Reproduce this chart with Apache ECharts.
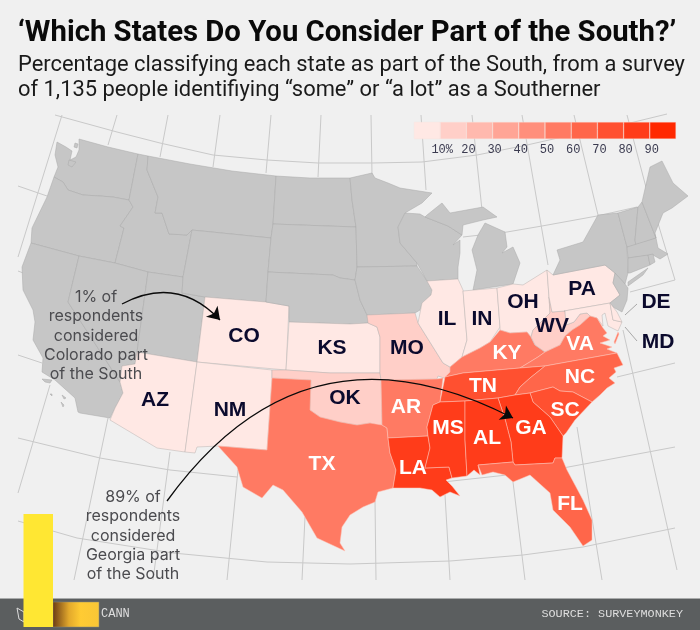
<!DOCTYPE html>
<html><head><meta charset="utf-8">
<style>html,body{margin:0;padding:0;background:#f0f0f0}#c{width:700px;height:630px}</style>
<script src="https://cdn.jsdelivr.net/npm/echarts@6/dist/echarts.min.js"></script>
</head><body><div id="c"></div>
<script>
const stateNames = ['CO','KS','AZ','NM','IL','IN','OH','PA','DE','MD','MO','OK','WV','AR','TX','KY','VA','NC','FL','TN','SC','LA','MS','AL','GA'];
const southPct   = [1,   4,   5,   6,   6,   7,   6,   3,   6,   8,   17,  17,  18,  57,  55,  56,  55,  66,  65,  75,  76,  84,  86,  85,  89];
// Legend
const binEdges  = [0,10,20,30,40,50,60,70,80,90,100];
const binColors = ['#ffe8e4','#ffcfc8','#ffb9ae','#ffa596','#ff8f7c','#ff7a63','#ff664a','#ff5030','#ff3c1a','#ff2800'];
const tickText  = {10:'10%',20:'20',30:'30',40:'40',50:'50',60:'60',70:'70',80:'80',90:'90'};
// Label anchors for each state
const labelAt = {CO:[244,336],KS:[332,348],AZ:[155,400],NM:[230,410],IL:[447,319],IN:[482,319],OH:[523,302],PA:[582,289],DE:[656,302],MD:[658,342],MO:[407,348],OK:[345,398],WV:[552,326],AR:[406,407],TX:[322,464],KY:[507,353],VA:[580,344],NC:[580,377],FL:[570,504],TN:[483,386],SC:[565,410],LA:[413,468],MS:[448,428],AL:[487,438],GA:[531,428]};
// State outlines (its own map projection)
const outlines = {
 WA:[[[57,142],[66,147],[72,151],[70,160],[76,157],[79,150],[79,139],[108,147],[138,154],[129,200],[113,197],[100,196],[83,195],[68,190],[63,182],[54,177],[58,167],[55,155]],[[69,160],[76,162],[72,167],[68,165]],[[75,143],[78,144],[77,148],[74,147]]],
 OR:[[[54,177],[63,182],[68,190],[83,195],[100,196],[113,197],[129,200],[133,207],[120,226],[124,228],[115,263],[79,256],[31,243],[32,228],[47,197]]],
 CA:[[[31,243],[79,256],[68,302],[120,382],[123,393],[115,408],[110,418],[80,413],[78,412],[75,398],[55,380],[42,372],[43,358],[33,340],[35,322],[33,310],[23,290],[22,267]],[[42,379],[52,380],[50,383],[45,382]],[[62,395],[66,398],[64,399]],[[50,394],[52,394],[52,396]],[[61,402],[64,405],[63,407]]],
 ID:[[[138,154],[148,156],[147,170],[158,197],[155,213],[162,213],[169,234],[187,235],[192,230],[183,277],[148,272],[115,263],[124,228],[120,226],[133,207],[129,200]]],
 NV:[[[79,256],[115,263],[148,272],[137,352],[135,364],[122,366],[120,382],[68,302]]],
 UT:[[[148,272],[183,277],[182,293],[205,297],[197,362],[137,352]]],
 MT:[[[148,156],[190,164],[232,171],[276,176],[273,224],[271,238],[192,230],[187,235],[169,234],[162,213],[155,213],[158,197],[147,170]]],
 WY:[[[192,230],[271,238],[268,272],[266,302],[205,297],[182,293],[183,277]]],
 CO:[[[205,297],[266,302],[289,306],[286,370],[197,362]]],
 AZ:[[[137,352],[197,362],[185,452],[157,448],[110,420],[115,408],[123,393],[120,382],[122,366],[135,364]]],
 NM:[[[197,362],[272,370],[272,378],[267,450],[218,446],[197,447],[195,453],[185,452]]],
 ND:[[[276,176],[310,178],[350,178],[352,200],[356,227],[273,224]]],
 SD:[[[273,224],[356,227],[357,267],[355,280],[340,278],[333,275],[268,272],[271,238]]],
 NE:[[[268,272],[333,275],[340,278],[355,280],[360,300],[367,315],[368,323],[350,324],[289,322],[289,306],[266,302]]],
 KS:[[[289,322],[350,324],[368,323],[377,327],[380,337],[380,373],[330,373],[286,370]]],
 OK:[[[272,370],[286,370],[330,373],[380,373],[381,380],[382,425],[387,428],[370,423],[357,425],[340,422],[320,417],[310,410],[311,380],[272,378]]],
 TX:[[[272,378],[311,380],[310,410],[320,417],[340,422],[357,425],[370,423],[382,425],[387,428],[388,438],[390,453],[396,470],[393,488],[378,492],[375,502],[363,507],[350,515],[342,527],[340,543],[345,551],[317,538],[302,512],[283,490],[273,485],[262,498],[243,487],[237,467],[218,446],[267,450]]],
 MN:[[[350,178],[372,173],[375,178],[388,183],[400,188],[432,193],[422,203],[405,213],[398,227],[400,243],[417,263],[417,266],[357,267],[356,227],[352,200]]],
 IA:[[[357,267],[417,266],[427,281],[432,290],[431,295],[422,303],[420,310],[415,313],[367,315],[360,300],[355,280]]],
 MO:[[[367,315],[415,313],[418,323],[433,347],[443,363],[450,367],[450,372],[447,379],[438,376],[437,379],[381,380],[380,373],[380,337],[377,327],[368,323]]],
 AR:[[[381,380],[437,379],[443,378],[440,402],[433,405],[427,427],[428,436],[388,438],[387,428],[382,425]]],
 LA:[[[388,438],[428,436],[430,448],[425,468],[449,467],[452,478],[446,480],[452,486],[460,496],[450,492],[440,497],[432,490],[420,488],[393,488],[396,470],[390,453]]],
 WI:[[[405,213],[420,214],[425,217],[448,226],[462,235],[453,245],[460,240],[460,253],[458,267],[458,279],[427,281],[417,263],[400,243],[398,227]]],
 MI:[[[473,290],[477,270],[472,250],[478,235],[485,223],[505,232],[507,247],[502,253],[513,247],[520,263],[513,284]],[[427,215],[442,203],[450,213],[483,207],[497,217],[483,220],[463,225],[462,235],[448,226],[425,217]]],
 IL:[[[427,281],[458,279],[463,290],[467,340],[462,357],[450,367],[443,363],[433,347],[418,323],[422,303],[431,295],[432,290]]],
 IN:[[[463,291],[497,288],[500,327],[490,342],[480,348],[462,357],[467,340]]],
 OH:[[[497,288],[513,284],[523,285],[547,270],[549,297],[550,313],[533,330],[531,337],[527,332],[510,333],[500,330],[500,327]]],
 KY:[[[500,330],[510,333],[527,332],[531,337],[535,345],[545,352],[538,357],[520,368],[463,373],[445,377],[450,372],[450,367],[462,357],[480,348],[490,342]]],
 WV:[[[549,297],[552,312],[565,311],[566,325],[574,322],[580,314],[587,313],[590,316],[580,325],[572,330],[565,336],[560,345],[545,352],[535,345],[531,337],[533,330],[550,313]]],
 PA:[[[547,270],[553,275],[605,265],[615,273],[613,283],[620,295],[610,303],[564,311],[552,312],[549,297]]],
 NY:[[[553,275],[560,260],[557,250],[583,242],[598,215],[618,213],[627,247],[628,273],[625,284],[615,273],[605,265]],[[628,282],[648,268],[643,275],[628,286]]],
 NJ:[[[615,273],[625,284],[628,288],[627,300],[622,312],[613,307],[610,303],[620,295],[613,283]]],
 VT:[[[618,213],[638,207],[635,240],[636,246],[627,247]]],
 NH:[[[638,207],[642,202],[656,238],[636,246],[635,240]]],
 ME:[[[642,202],[650,167],[662,161],[673,183],[688,196],[672,208],[663,213],[655,233],[656,238]]],
 MA:[[[627,247],[656,238],[658,248],[668,254],[660,259],[653,255],[628,258]]],
 CT:[[[628,258],[648,255],[650,265],[630,273],[628,273]]],
 RI:[[[648,255],[653,254],[655,262],[650,265]]],
 MD:[[[564,311],[610,303],[613,320],[622,322],[618,331],[608,326],[605,313],[602,315],[603,326],[597,318],[590,316],[587,313],[580,314],[574,322],[566,325],[565,311]]],
 DE:[[[610,303],[617,312],[622,322],[613,320]]],
 VA:[[[520,368],[538,357],[545,352],[560,345],[565,336],[572,330],[580,325],[590,316],[597,318],[603,328],[607,333],[603,336],[610,340],[600,343],[612,347],[607,349],[617,353],[545,366]],[[618,332],[619,334],[615,344],[614,342]]],
 TN:[[[445,377],[463,373],[520,368],[545,366],[530,378],[520,387],[515,395],[498,398],[465,401],[440,402]]],
 NC:[[[545,366],[617,353],[623,365],[614,368],[616,372],[609,378],[615,383],[607,388],[600,395],[592,402],[573,392],[560,391],[553,387],[530,393],[515,395],[520,387],[530,378]]],
 SC:[[[530,393],[553,387],[560,391],[573,392],[592,402],[575,420],[566,433],[563,436],[550,417],[533,402]]],
 GA:[[[498,398],[515,395],[530,393],[533,402],[550,417],[563,436],[562,458],[555,458],[553,463],[515,465],[513,462],[511,442],[505,419]]],
 MS:[[[440,402],[465,401],[465,440],[467,476],[452,478],[449,467],[425,468],[430,448],[428,436],[427,427],[433,405]]],
 AL:[[[465,401],[498,398],[505,419],[511,442],[513,462],[478,465],[480,475],[474,470],[467,476],[465,440]]],
 FL:[[[478,465],[513,462],[515,465],[553,463],[555,458],[562,458],[567,470],[583,500],[592,520],[592,540],[583,546],[570,527],[553,510],[550,493],[530,475],[513,482],[505,475],[493,472],[482,475]]]
};
// Faint graticule
const graticule = [
 [[62,115],[18,257]],[[50,385],[18,493]],[[117,115],[108,145]],[[108,418],[74,580]],
 [[168,115],[160,157]],[[170,452],[153,580]],[[220,115],[213,167]],[[238,470],[227,580]],
 [[271,115],[266,173]],[[321,115],[318,177]],[[305,517],[302,580]],
 [[371,115],[372,175]],[[375,500],[376,580]],[[421,115],[426,190]],[[445,495],[450,580]],
 [[472,115],[482,210]],[[513,482],[525,580]],[[522,115],[548,265]],[[577,427],[602,580]],
 [[574,115],[598,215]],[[623,330],[677,570]],[[627,115],[648,195]],[[657,220],[675,280]],
 [[55,115],[117,132],[160,143],[213,155],[267,160],[318,163],[372,163],[422,162],[477,155],[527,145],[580,133],[630,123],[667,114]],
 [[18,186],[47,196]],[[463,237],[507,232],[542,226],[597,216],[637,207]],
 [[630,292],[675,280]],[[18,271],[31,276]],
 [[617,377],[675,363]],[[18,355],[42,363]],
 [[563,468],[675,447]],[[443,482],[507,475]],[[18,438],[100,458],[170,470],[237,477]],
 [[18,521],[77,538],[173,553],[267,562],[350,564],[450,561],[523,555],[583,547],[675,528]]
];
const arrows = [
 {from:[122,304],to:[220,320],bend:0.38},
 {from:[167,501],to:[513,418],bend:0.43}
];
const leaders = [[[625,315],[637,304]],[[625,327],[637,341]]];

const titleText = '\u2018Which States Do You Consider Part of the South?\u2019';
const subText = 'Percentage classifying each state as part of the South, from a survey\nof 1,135 people identifiying \u201csome\u201d or \u201ca lot\u201d as a Southerner';
const noteColorado = '1% of\nrespondents\nconsidered\nColorado part\nof the South';
const noteGeorgia = '89% of\nrespondents\nconsidered\nGeorgia part\nof the South';

const features = Object.keys(outlines).map(n => ({
  type:'Feature',
  properties:{name:n, cp:labelAt[n]},
  geometry:{type:'MultiPolygon', coordinates:outlines[n].map(r => [r.concat([r[0]])])}
}));
echarts.registerMap('usa',{type:'FeatureCollection',features});

const pctOf = n => southPct[stateNames.indexOf(n)];
const chart = echarts.init(document.getElementById('c'));
const ink = '#0b0a2d';
const noteStyle = {fontFamily:'Inter',fontSize:16,lineHeight:19.3,textAlign:'center',fill:'#4b4b4f'};

chart.setOption({
  backgroundColor:'#f0f0f0',
  animation:false,
  title:[
    {text:titleText,left:13,top:14,textStyle:{fontFamily:'Roboto',fontWeight:'bold',fontSize:29.3,color:'#0a0a0a'}},
    {text:subText,left:13,top:48,textStyle:{fontFamily:'Roboto',fontWeight:'normal',fontSize:21.9,lineHeight:25,color:'#1a1a1a'}}
  ],
  geo:{
    map:'usa',
    projection:{project:p=>p,unproject:p=>p},
    boundingCoords:[[0,0],[700,630]],
    left:0,top:0,width:700,height:630,
    roam:false,silent:true,z:2,
    itemStyle:{areaColor:'#c6c6c6',borderColor:'#a8a8a8',borderWidth:0.5},
    label:{show:false},
    regions:stateNames.map(n=>({
      name:n,
      label:{show:true,fontFamily:'Liberation Sans',fontWeight:'bold',fontSize:21,color:pctOf(n)>=50?'#ffffff':ink},
      itemStyle:{borderColor:pctOf(n)>=50?'#ffc4b8':'#b9b3b1',borderWidth:0.5}
    }))
  },
  visualMap:{
    type:'piecewise',show:false,seriesIndex:0,
    pieces:binColors.map((c,i)=>({min:binEdges[i],max:binEdges[i+1],color:c}))
  },
  grid:{left:414,top:122,width:262,height:17,containLabel:false},
  xAxis:{type:'value',min:0,max:100,interval:10,
    axisLine:{show:false},axisTick:{show:false},splitLine:{show:false},
    axisLabel:{margin:5,padding:[0,0,0,4],fontFamily:'Liberation Mono',fontSize:12,color:'#3b3b50',
      formatter:v=>tickText[v]||''}},
  yAxis:{type:'category',data:['bins'],show:false},
  series:[
    {type:'map',geoIndex:0,data:stateNames.map((n,i)=>({name:n,value:southPct[i]}))},
    {type:'lines',coordinateSystem:'geo',polyline:true,silent:true,z:-1,
      lineStyle:{color:'#c9c9c9',width:1,opacity:1},
      data:graticule.map(c=>({coords:c}))},
    {type:'lines',coordinateSystem:'geo',polyline:true,silent:true,z:5,
      lineStyle:{color:'#a8a8a8',width:1,opacity:1},
      data:leaders.map(c=>({coords:c}))},
    {type:'lines',coordinateSystem:'geo',silent:true,z:6,
      symbol:['none','arrow'],symbolSize:12,
      lineStyle:{color:'#0a0a0a',width:1.3,opacity:1},
      data:arrows.map(a=>({coords:[a.from,a.to],lineStyle:{curveness:a.bend}}))}
  ].concat(binColors.map((c,i)=>({
    type:'bar',stack:'legend',barWidth:17,silent:true,z:4,
    data:[binEdges[i+1]-binEdges[i]],
    itemStyle:{color:c,borderColor:'#f9e2dd',borderWidth:0.4}
  }))),
  graphic:[
    {type:'text',z:20,style:Object.assign({x:96,y:287.5,text:noteColorado},noteStyle)},
    {type:'text',z:20,style:Object.assign({x:133,y:487.5,text:noteGeorgia},noteStyle)},
    {type:'rect',z:30,shape:{x:0,y:598,width:700,height:32},style:{fill:'#5b5e5f'}},
    {type:'rect',z:31,shape:{x:0,y:598,width:700,height:1},style:{fill:'#a9abab'}},
    {type:'polyline',z:32,shape:{points:[[17,608],[24,612],[24,622],[19,619],[17,608]]},style:{stroke:'#dcdcdc',fill:'none',lineWidth:1}},
    {type:'rect',z:33,shape:{x:53,y:602,width:46,height:25},style:{stroke:'#8a8a7a',lineWidth:0.5,fill:new echarts.graphic.LinearGradient(0,0,1,0,[{offset:0,color:'#6a3a14'},{offset:0.35,color:'#e3a92c'},{offset:0.6,color:'#ffcb33'},{offset:1,color:'#f9c636'}])}},
    {type:'rect',z:34,shape:{x:23.5,y:514,width:29.5,height:113},style:{fill:'#ffe733'}},
    {type:'text',z:35,style:{x:101,y:608,text:'CANN',fontFamily:'Liberation Mono',fontSize:12,fill:'#dedede'}},
    {type:'text',z:35,style:{x:683,y:608,textAlign:'right',text:'SOURCE: SURVEYMONKEY',fontFamily:'Liberation Mono',fontSize:11.8,fill:'#dedede'}}
  ]
});
</script></body></html>
